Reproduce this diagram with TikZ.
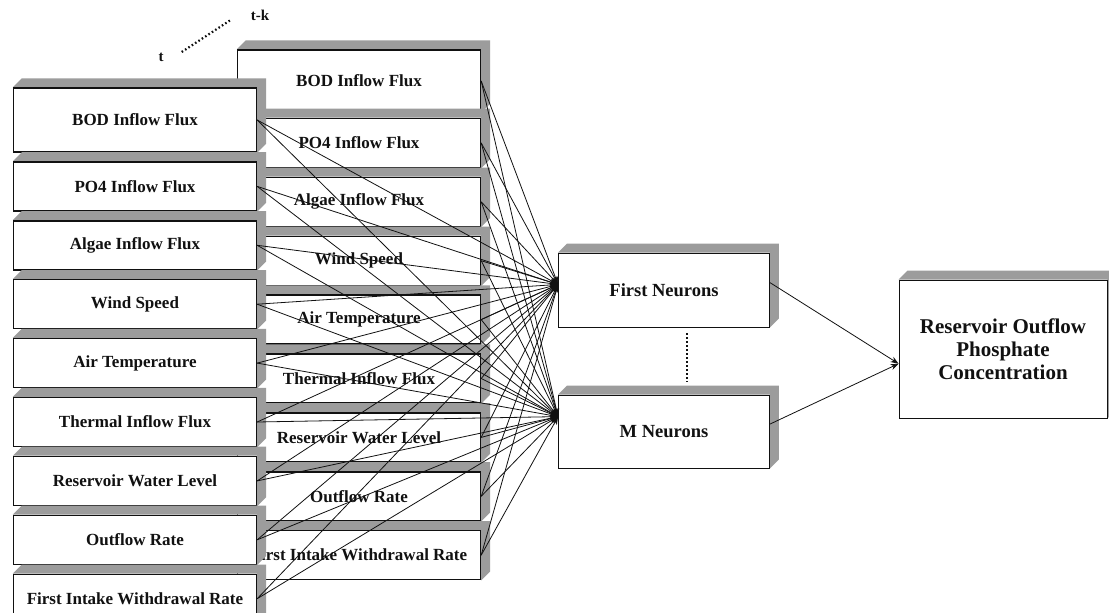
\documentclass[tikz,border=0pt]{standalone}
\usepackage{fontspec}
\setmainfont{Liberation Serif}
\usepackage{tikz}
\usetikzlibrary{arrows.meta,positioning,calc}
\definecolor{ink}{HTML}{111111}
\definecolor{bevelgray}{HTML}{9C9C9C}
\newcommand{\slabfaces}[1]{%
  \fill[bevelgray] (#1.north west) -- ++(9pt,9pt) -- ([shift={(9pt,9pt)}]#1.north east)
    -- ([shift={(9pt,9pt)}]#1.south east) -- (#1.south east) -- (#1.north east) -- cycle;}
\tikzset{
  slab/.style={rectangle,draw=ink,line width=1.4pt,fill=white,text=ink,
    inner sep=2pt,minimum width=243pt,minimum height=49pt,
    font=\bfseries\fontsize{17}{20}\selectfont,
    append after command={\pgfextra{\slabfaces{\tikzlastnode}}}},
  neuronbox/.style={slab,line width=0.9pt,minimum width=211pt,minimum height=74pt,
    font=\bfseries\fontsize{18.5}{22}\selectfont},
  outbox/.style={slab,line width=0.9pt,align=center,minimum width=208pt,minimum height=138pt,
    font=\bfseries\fontsize{21}{23}\selectfont},
  wire/.style={-{Stealth[length=8pt,width=6pt]},line width=0.8pt,color=ink},
  lagdots/.style={line width=2.2pt,dash pattern=on 1.6pt off 2.4pt,color=ink},
  laglabel/.style={font=\bfseries\fontsize{15}{18}\selectfont,text=ink,inner sep=0pt},
}
\begin{document}
\begin{tikzpicture}[x=1pt,y=-1pt,node distance=8.5pt]
  \path[use as bounding box,fill=white] (0,0) rectangle (1109,613);

  \node[slab,minimum height=62pt] (kbod) at (359,81) {BOD Inflow Flux};
  \node[slab,below=5pt of kbod] (kpo) {PO4 Inflow Flux};
  \node[slab,below=of kpo] (kalg) {Algae Inflow Flux};
  \node[slab,below=of kalg] (kwind) {Wind Speed};
  \node[slab,below=of kwind] (kair) {Air Temperature};
  \node[slab,below=of kair] (ktherm) {Thermal Inflow Flux};
  \node[slab,below=of ktherm] (klevel) {Reservoir Water Level};
  \node[slab,below=of klevel] (koutf) {Outflow Rate};
  \node[slab,below=of koutf] (kintake) {First Intake Withdrawal Rate};

  \node[slab,minimum height=64pt] (tbod) at (135,120) {BOD Inflow Flux};
  \node[slab,below=of tbod] (tpo) {PO4 Inflow Flux};
  \node[slab,below=of tpo] (talg) {Algae Inflow Flux};
  \node[slab,below=of talg] (twind) {Wind Speed};
  \node[slab,below=of twind] (tair) {Air Temperature};
  \node[slab,below=of tair] (ttherm) {Thermal Inflow Flux};
  \node[slab,below=of ttherm] (tlevel) {Reservoir Water Level};
  \node[slab,below=of tlevel] (toutf) {Outflow Rate};
  \node[slab,below=of toutf] (tintake) {First Intake Withdrawal Rate};

  \node[laglabel] (tlab) at (161,57) {t};
  \node[laglabel] (tklab) at (260,15) {t-k};
  \draw[lagdots] ([shift={(18pt,5pt)}]tlab.east) -- ([shift={(-20pt,-5pt)}]tklab.west);

  \node[neuronbox] (first) at (664,290) {First Neurons};
  \node[neuronbox,minimum height=73pt] (mneu) at (664,431.5) {M Neurons};
  \node[outbox] (out) at (1003,349) {Reservoir Outflow\\Phosphate\\Concentration};
  \draw[lagdots] ([shift={(23pt,-6pt)}]first.south) -- ([shift={(23pt,13pt)}]mneu.north);

  \draw[wire] (kbod.east) -- (first.177);
  \draw[wire] (kbod.east) -- (mneu.172);
  \draw[wire] (kpo.east) -- (first.177);
  \draw[wire] (kpo.east) -- (mneu.172);
  \draw[wire] (kalg.east) -- (first.177);
  \draw[wire] (kalg.east) -- (mneu.172);
  \draw[wire] (kwind.east) -- (first.177);
  \draw[wire] (kwind.east) -- (mneu.172);
  \draw[wire] (kair.east) -- (first.177);
  \draw[wire] (kair.east) -- (mneu.172);
  \draw[wire] (ktherm.east) -- (first.177);
  \draw[wire] (ktherm.east) -- (mneu.172);
  \draw[wire] (klevel.east) -- (first.177);
  \draw[wire] (klevel.east) -- (mneu.172);
  \draw[wire] (koutf.east) -- (first.177);
  \draw[wire] (koutf.east) -- (mneu.172);
  \draw[wire] (kintake.east) -- (first.177);
  \draw[wire] (kintake.east) -- (mneu.172);
  \draw[wire] (tbod.east) -- (first.177);
  \draw[wire] (tbod.east) -- (mneu.172);
  \draw[wire] (tpo.east) -- (first.177);
  \draw[wire] (tpo.east) -- (mneu.172);
  \draw[wire] (talg.east) -- (first.177);
  \draw[wire] (talg.east) -- (mneu.172);
  \draw[wire] (twind.east) -- (first.177);
  \draw[wire] (twind.east) -- (mneu.172);
  \draw[wire] (tair.east) -- (first.177);
  \draw[wire] (tair.east) -- (mneu.172);
  \draw[wire] (ttherm.east) -- (first.177);
  \draw[wire] (ttherm.east) -- (mneu.172);
  \draw[wire] (tlevel.east) -- (first.177);
  \draw[wire] (tlevel.east) -- (mneu.172);
  \draw[wire] (toutf.east) -- (first.177);
  \draw[wire] (toutf.east) -- (mneu.172);
  \draw[wire] (tintake.east) -- (first.177);
  \draw[wire] (tintake.east) -- (mneu.172);
  \draw[wire] (first.4) -- (out.188);
  \draw[wire] (mneu.4) -- (out.188);
\end{tikzpicture}
\end{document}
